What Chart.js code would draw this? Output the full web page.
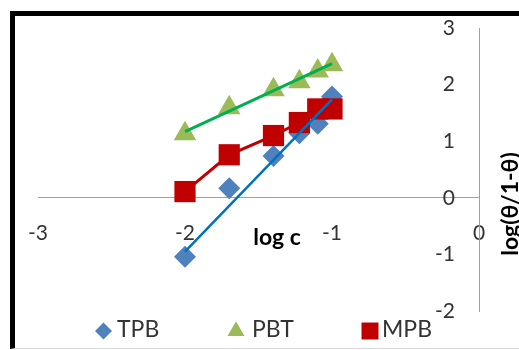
<!DOCTYPE html>
<html>
<head>
<meta charset="utf-8">
<script src="https://cdn.jsdelivr.net/npm/chart.js@4.4.1/dist/chart.umd.min.js"></script>
<style>
  html, body { margin: 0; padding: 0; background: #fff; width: 519px; height: 350px; overflow: hidden; }
  #frame { position: absolute; left: 10px; top: 11px; width: 600px; height: 332px;
           border-left: 5px solid #000; border-top: 5px solid #000; border-bottom: 1px solid #d9d9d9; }
  #c { position: absolute; left: 0; top: 0; }
</style>
</head>
<body>
<div id="frame"></div>
<canvas id="c" width="519" height="350"></canvas>
<script>
// log of concentration
const logC = [-2, -1.699, -1.398, -1.222, -1.097, -1];
// log(θ/1-θ) for each inhibitor
const tpb = [-1.04, 0.17, 0.74, 1.14, 1.31, 1.79];
const pbt = [1.13, 1.59, 1.91, 2.05, 2.24, 2.35];
const mpb = [0.11, 0.76, 1.10, 1.33, 1.57, 1.57];
// straight-line fits (values at log c = -2 and -1)
const fitX = [-2, -1];
const tpbFit = [-0.95, 1.74];
const pbtFit = [1.17, 2.37];

const seriesNames = ['TPB', 'PBT', 'MPB'];
const xTicks = [-3, -2, -1, 0];
const yTicks = [-2, -1, 0, 1, 2, 3];
const xTitle = 'log c';
const yTitle = 'log(θ/1-θ)';

const FONT = "Lato, 'Noto Sans', sans-serif";
const pts = (xs, ys) => xs.map((x, i) => ({ x, y: ys[i] }));

const overlay = {
  id: 'overlay',
  afterDraw(chart) {
    const ctx = chart.ctx;
    ctx.save();
    // axis titles
    ctx.fillStyle = '#000';
    ctx.font = 'bold 23px ' + FONT;
    ctx.textAlign = 'center';
    ctx.textBaseline = 'middle';
    ctx.fillText(xTitle, 277, 238);
    ctx.save();
    ctx.translate(511, 204);
    ctx.rotate(-Math.PI / 2);
    ctx.fillText(yTitle, 0, 0);
    ctx.restore();

    // legend row
    const items = [
      { ds: 0, mx: 103.5, tx: 117, r: 8.5 },
      { ds: 1, mx: 236, tx: 252, r: 9.8 },
      { ds: 2, mx: 370, tx: 382, r: 12 }
    ];
    ctx.font = '23px ' + FONT;
    ctx.textAlign = 'left';
    items.forEach(it => {
      const d = chart.data.datasets[it.ds];
      ctx.fillStyle = d.pointBackgroundColor;
      ctx.strokeStyle = d.pointBackgroundColor;
      Chart.helpers.drawPoint(ctx, { pointStyle: d.pointStyle, radius: it.r, rotation: 0, borderWidth: 0 }, it.mx, 331);
      ctx.fillStyle = '#333';
      ctx.fillText(d.label, it.tx, 330);
    });
    ctx.restore();
  }
};

new Chart(document.getElementById('c'), {
  type: 'scatter',
  data: {
    datasets: [
      { label: seriesNames[0], data: pts(logC, tpb), pointStyle: 'rectRot', pointRadius: 11, pointHoverRadius: 11,
        pointBackgroundColor: '#4F81BD', pointBorderColor: '#4F81BD', pointBorderWidth: 0, showLine: false, order: 3 },
      { label: seriesNames[1], data: pts(logC, pbt), pointStyle: 'triangle', pointRadius: 13, pointHoverRadius: 13,
        pointBackgroundColor: '#9BBB59', pointBorderColor: '#9BBB59', pointBorderWidth: 0, showLine: false, order: 2 },
      { label: seriesNames[2], data: pts(logC, mpb), pointStyle: 'rect', pointRadius: 15, pointHoverRadius: 15,
        pointBackgroundColor: '#C00000', pointBorderColor: '#C00000', pointBorderWidth: 0,
        showLine: true, borderColor: '#C00000', borderWidth: 3, order: 1 },
      { label: 'TPB fit', type: 'line', data: pts(fitX, tpbFit), borderColor: '#0070C0', borderWidth: 2.5,
        pointRadius: 0, fill: false, order: 0 },
      { label: 'PBT fit', type: 'line', data: pts(fitX, pbtFit), borderColor: '#00B050', borderWidth: 3,
        pointRadius: 0, fill: false, order: 0 }
    ]
  },
  options: {
    responsive: false,
    animation: false,
    devicePixelRatio: 1,
    layout: { padding: { left: 38, top: 28, right: 40, bottom: 39 } },
    plugins: { legend: { display: false }, tooltip: { enabled: false } },
    scales: {
      x: {
        type: 'linear', position: { y: 0 }, min: -3, max: 0,
        afterBuildTicks: s => { s.ticks = xTicks.map(v => ({ value: v })); },
        grid: { display: false, drawTicks: false },
        border: { display: true, color: '#a0a0a0', width: 1 },
        // tall line box drops the labels well below the axis line
        ticks: { color: '#333', font: { family: FONT, size: 21, lineHeight: '64px' } }
      },
      y: {
        // mirrored right-hand axis: labels sit to the left of the axis line
        type: 'linear', position: 'right', min: -2, max: 3,
        afterBuildTicks: s => { s.ticks = yTicks.map(v => ({ value: v })); },
        grid: { display: false, drawTicks: false },
        border: { display: true, color: '#a0a0a0', width: 1 },
        ticks: { mirror: true, padding: -24, color: '#333', font: { family: FONT, size: 21 } }
      }
    }
  },
  plugins: [overlay]
});
</script>
</body>
</html>
